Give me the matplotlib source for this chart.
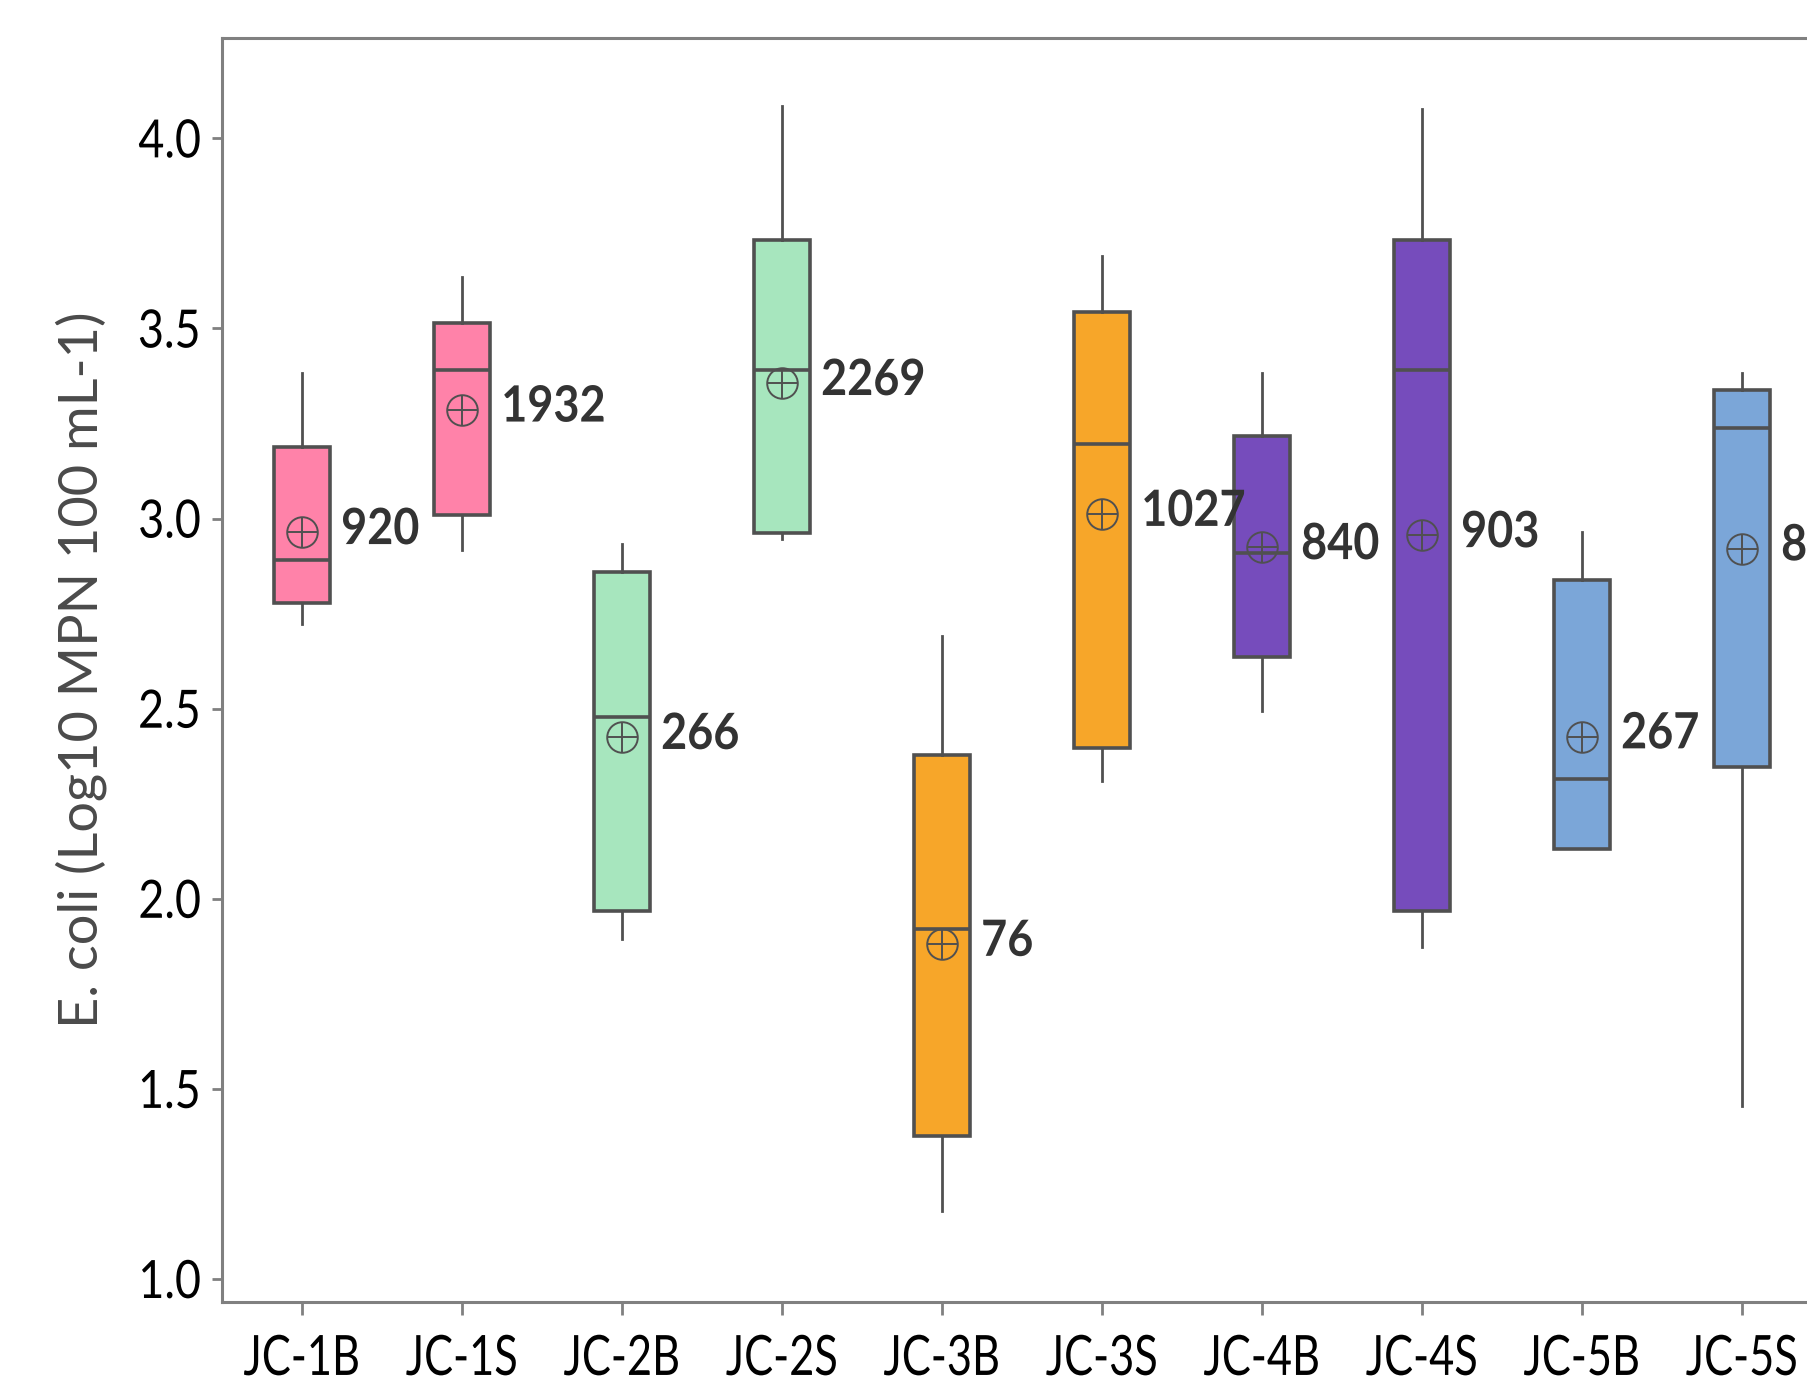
import matplotlib
matplotlib.use("Agg")
import matplotlib.pyplot as plt
import numpy as np
from matplotlib.patheffects import AbstractPathEffect
from matplotlib.transforms import Affine2D

plt.rcParams['font.family'] = ['Lato', 'DejaVu Sans']

# Sampling sites
sites = ["JC-1B", "JC-1S", "JC-2B", "JC-2S", "JC-3B",
         "JC-3S", "JC-4B", "JC-4S", "JC-5B", "JC-5S"]

# Box-plot statistics, log10 MPN / 100 mL
whisker_low = [2.722, 2.918, 1.893, 2.947, 1.180, 2.310, 2.494, 1.872, 2.131, 1.455]
q1          = [2.777, 3.009, 1.967, 2.962, 1.376, 2.397, 2.636, 1.967, 2.131, 2.347]
median      = [2.892, 3.391, 2.477, 3.391, 1.920, 3.196, 2.910, 3.391, 2.314, 3.237]
q3          = [3.188, 3.514, 2.859, 3.734, 2.378, 3.544, 3.217, 3.734, 2.839, 3.337]
whisker_high= [3.384, 3.636, 2.933, 4.086, 2.692, 3.690, 3.384, 4.076, 2.965, 3.384]

# Geometric mean counts (MPN / 100 mL) shown next to each box
mean_counts = [920, 1932, 266, 2269, 76, 1027, 840, 903, 267, 834]

fill_colors = ["#FF82A9", "#FF82A9", "#A7E6BE", "#A7E6BE", "#F7A629",
               "#F7A629", "#764CBC", "#764CBC", "#7BA6D8", "#7BA6D8"]

y_ticks = [1.0, 1.5, 2.0, 2.5, 3.0, 3.5, 4.0]
y_label = "E. coli (Log10 MPN 100 mL-1)"


class Squeeze(AbstractPathEffect):
    """Draw text glyphs narrower, keeping the chosen anchor edge fixed."""

    def __init__(self, sx, anchor="center"):
        super().__init__()
        self.sx = sx
        self.anchor = anchor

    def draw_path(self, renderer, gc, tpath, affine, rgbFace=None):
        ext = tpath.get_extents()
        if self.anchor == "right":
            cx = ext.x1
        elif self.anchor == "left":
            cx = ext.x0
        else:
            cx = 0.5 * (ext.x0 + ext.x1)
        squeeze = Affine2D().translate(-cx, 0).scale(self.sx, 1).translate(cx, 0)
        renderer.draw_path(gc, tpath, squeeze + affine, rgbFace)


W, H = 1807, 1392
fig = plt.figure(figsize=(W / 100, H / 100), dpi=100)
ax = fig.add_axes([222 / W, 90 / H, 1600 / W, 1264 / H])

log_means = np.log10(mean_counts)
stats = []
for i in range(len(sites)):
    stats.append(dict(whislo=whisker_low[i], q1=q1[i], med=median[i],
                      q3=q3[i], whishi=whisker_high[i], mean=log_means[i],
                      fliers=[], label=sites[i]))

edge = "#505050"
bp = ax.bxp(stats, positions=np.arange(len(sites)), widths=0.35,
            patch_artist=True, showcaps=False, showfliers=False,
            showmeans=True,
            boxprops=dict(edgecolor=edge, linewidth=2.6),
            medianprops=dict(color=edge, linewidth=2.6),
            whiskerprops=dict(color=edge, linewidth=2.0),
            meanprops=dict(marker='o', markerfacecolor='none',
                           markeredgecolor=edge, markersize=22,
                           markeredgewidth=1.4))
for patch, c in zip(bp['boxes'], fill_colors):
    patch.set_facecolor(c)

# crosshair inside the mean circle
ax.plot(np.arange(len(sites)), log_means, linestyle='none', marker='+',
        markersize=22, markeredgecolor=edge, markeredgewidth=1.4, zorder=5)

for i, (m, n) in enumerate(zip(log_means, mean_counts)):
    t = ax.annotate(str(n), xy=(i, m), xytext=(28, 2), textcoords='offset points',
                    ha='left', va='center', fontsize=36, fontweight='bold',
                    color='#333333', annotation_clip=False)
    t.set_path_effects([Squeeze(0.9, "left")])

ax.set_xlim(-0.5, 9.5)
ax.set_ylim(0.9395, 4.264)
ax.set_yticks(y_ticks)
ax.set_yticklabels([f"{v:.1f}" for v in y_ticks])
ax.set_xticks(np.arange(len(sites)))
ax.set_xticklabels(sites)

ax.tick_params(axis='y', labelsize=38, length=7, width=2, color='#808080',
               pad=8, labelcolor='black')
ax.tick_params(axis='x', labelsize=40, length=9, width=2, color='#808080',
               pad=14, labelcolor='black')

for lbl in ax.get_yticklabels():
    lbl.set_path_effects([Squeeze(0.85, "right")])
for lbl in ax.get_xticklabels():
    lbl.set_path_effects([Squeeze(0.78, "center")])

for side in ['left', 'top', 'bottom', 'right']:
    ax.spines[side].set_color('#808080')
    ax.spines[side].set_linewidth(2.2)

ax.set_ylabel(y_label, fontsize=39, color='#4a4a4a')
ax.yaxis.set_label_coords(-0.072, 0.5)

fig.savefig("out.png", dpi=100)
